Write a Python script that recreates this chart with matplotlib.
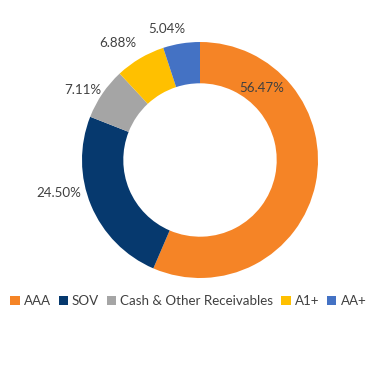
import matplotlib.pyplot as plt
from matplotlib.patches import Patch

plt.rcParams['font.family'] = ['Lato', 'DejaVu Sans']

# portfolio rating split
ratings = ["AAA", "SOV", "Cash & Other Receivables", "A1+", "AA+"]
shares = [56.47, 24.50, 7.11, 6.88, 5.04]
colors = ["#F58426", "#06396E", "#A5A5A5", "#FFC000", "#4472C4"]

# where each percent label sits, relative to the ring (radius 1)
label_pos = [(0.52, 0.61), (-1.20, -0.28), (-0.99, 0.59), (-0.70, 0.99), (-0.28, 1.11)]

fig = plt.figure(figsize=(3.69, 3.90), dpi=100)
ax = fig.add_axes([0.2222, 0.2872, 0.6396, 0.6051])

wedges, _ = ax.pie(shares, colors=colors, startangle=90, counterclock=False,
                   radius=1, wedgeprops=dict(width=0.35, linewidth=0))
ax.set_xlim(-1, 1)
ax.set_ylim(-1, 1)
ax.set_aspect('auto')
ax.axis('off')

for val, (x, y) in zip(shares, label_pos):
    ax.text(x, y, f"{val:.2f}%", ha='center', va='center', fontsize=9.6,
            color='#404040', clip_on=False)

handles = [Patch(facecolor=c, edgecolor='none') for c in colors]
fig.legend(handles, ratings, loc='center', bbox_to_anchor=(0.51, 0.228), ncol=5,
           frameon=False, prop={'size': 9.6},
           handlelength=0.7, handleheight=0.7,
           handletextpad=0.3, columnspacing=0.6, labelcolor='#404040')

fig.savefig("out.png", dpi=100)
